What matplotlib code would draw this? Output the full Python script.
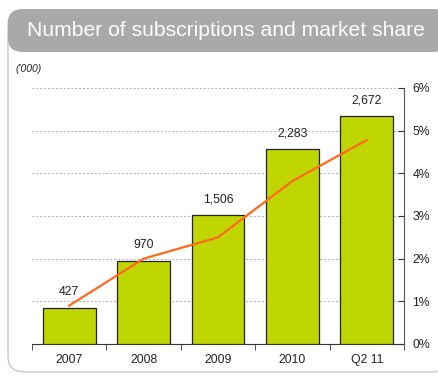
import matplotlib
matplotlib.use('Agg')
import matplotlib.pyplot as plt
from matplotlib.patches import FancyBboxPatch
from matplotlib.ticker import FuncFormatter

plt.rcParams['font.family'] = ['Liberation Sans', 'DejaVu Sans']

# 加入者数（千件）と市場シェア
periods = ['2007', '2008', '2009', '2010', 'Q2 11']
subscriptions = [427, 970, 1506, 2283, 2672]
share_pct = [0.9, 2.0, 2.5, 3.82, 4.78]

fig = plt.figure(figsize=(4.38, 3.79), dpi=100)

# 枠とヘッダー
frame = FancyBboxPatch((8 / 438, 7 / 379), 440 / 438, 362 / 379,
                       boxstyle='round,pad=0,rounding_size=0.04',
                       transform=fig.transFigure, facecolor='white',
                       edgecolor='#c8c8c8', linewidth=1.0, zorder=-2)
fig.patches.append(frame)
header = FancyBboxPatch((8 / 438, 1 - 52 / 379), 440 / 438, 43 / 379,
                        boxstyle='round,pad=0,rounding_size=0.035',
                        transform=fig.transFigure, facecolor='#a9a9a9',
                        edgecolor='none', zorder=-1)
fig.patches.append(header)
fig.text(27 / 438, 1 - 31 / 379, 'Number of subscriptions and market share',
         color='white', fontsize=15.2, va='center', ha='left')
fig.text(16 / 438, 1 - 69 / 379, "('000)", fontsize=7.5, style='italic',
         va='center', ha='left', color='#222222')

ax = fig.add_axes([32 / 438, 1 - 344 / 379, 372 / 438, 256 / 379])
ax.patch.set_visible(False)
x = range(len(periods))
bars = ax.bar(x, subscriptions, width=0.71, color='#bfd600',
              edgecolor='#222222', linewidth=0.9, zorder=3)
for xi, v in zip(x, subscriptions):
    ax.text(xi, v + 115, f'{v:,}', ha='center', va='bottom', fontsize=8.8,
            color='#222222', zorder=5)

ax.set_xlim(-0.5, len(periods) - 0.5)
ax.set_ylim(0, 3000)
ax.set_yticks(range(0, 3001, 500))
ax.yaxis.grid(True, linestyle=(0, (2, 2)), color='#b0b0b0', linewidth=0.7)
ax.set_axisbelow(True)
for s in ['top', 'left', 'right']:
    ax.spines[s].set_visible(False)
ax.spines['bottom'].set_color('#333333')
ax.set_xticks(x)
ax.set_xticklabels(periods, fontsize=8.8, color='#222222')
ax.set_xticks([i - 0.5 for i in range(len(periods) + 1)], minor=True)
ax.tick_params(axis='x', which='major', length=0, pad=7)
ax.tick_params(axis='x', which='minor', length=4, color='#333333',
               direction='out')

ax2 = ax.twinx()
# twinx は左側の目盛りを戻すので、ここで消す
ax.tick_params(axis='y', left=False, labelleft=False)
ax2.patch.set_visible(False)
ax2.plot(x, share_pct, color='#ff6a1a', linewidth=1.6, zorder=4)
ax2.set_ylim(0, 6)
ax2.set_yticks(range(0, 7))
ax2.yaxis.set_major_formatter(FuncFormatter(lambda v, p: f'{v:.0f}%'))
ax2.tick_params(axis='y', labelsize=8.8, colors='#333333', length=4,
                direction='in', pad=6, labelcolor='#222222')
for s in ['top', 'left', 'bottom']:
    ax2.spines[s].set_visible(False)
ax2.spines['right'].set_color('#555555')

fig.savefig('out.png', dpi=100)
